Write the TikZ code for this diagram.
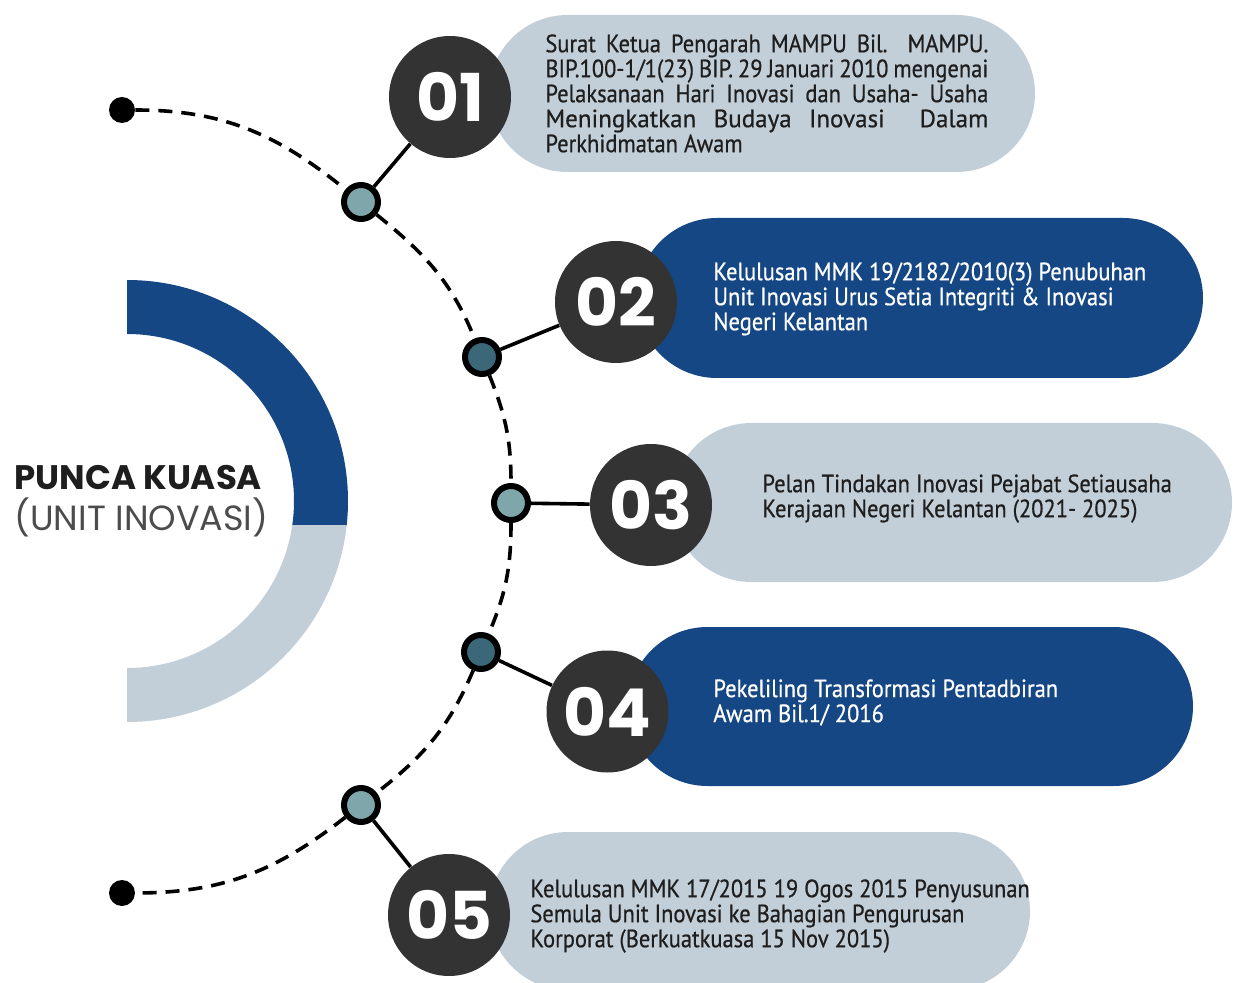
\documentclass[tikz,border=0pt]{standalone}
\usepackage{fontspec}
\usetikzlibrary{shapes.misc}
\setmainfont{PT Sans}
\newfontfamily\descfont[FakeStretch=0.9,FakeBold=0.6]{PT Sans}
\newfontfamily\widefont[FakeBold=0.6]{PT Sans}
\newfontfamily\numfont{Poppins}
\newfontfamily\titlefont{Poppins}
\definecolor{navy}{HTML}{164785}
\definecolor{pale}{HTML}{C3CFD8}
\definecolor{ink}{HTML}{333333}
\definecolor{tealL}{HTML}{7FA6AB}
\definecolor{tealD}{HTML}{3A6878}
\definecolor{txt}{HTML}{1E1E1E}
\newcommand{\jline}[1]{\makebox[221.5pt][s]{#1}}
\begin{document}
\begin{tikzpicture}[x=0.5pt,y=0.5pt,
  pill/.style={rounded rectangle, inner sep=0pt, draw=none},
  numc/.style={circle, fill=ink, minimum size=61pt, inner sep=0pt, text=white,
    font=\numfont\bfseries\fontsize{33}{33}\selectfont},
  desc/.style={anchor=north west, inner sep=0pt, align=left,
    font=\descfont\fontsize{12.5}{12.5}\selectfont},
  enddot/.style={circle, fill=black, minimum size=13pt, inner sep=0pt},
  joint/.style={circle, draw=black, line width=3pt, minimum size=17pt, inner sep=0pt},
  conn/.style={line width=1.8pt, black},
  dashline/.style={line width=1.8pt, black, dash pattern=on 7pt off 4.5pt}]
\useasboundingbox (0,0) rectangle (1233,982);
% half ring
\begin{scope}
  \clip (127,457) rectangle (420,800);
  \fill[navy,even odd rule] (127,481) circle[radius=110.5pt] (127,481) circle[radius=83.5pt];
\end{scope}
\begin{scope}
  \clip (127,150) rectangle (420,457);
  \fill[pale,even odd rule] (127,481) circle[radius=110.5pt] (127,481) circle[radius=83.5pt];
\end{scope}
\node[anchor=west, inner sep=0pt, font=\titlefont\bfseries\fontsize{17}{17}\selectfont, text=txt] (t1) at (14,504) {PUNCA KUASA};
\node[anchor=west, inner sep=0pt, font=\titlefont\fontsize{17.5}{17.5}\selectfont, text=black!70] (t2) at (14,465) {(UNIT INOVASI)};
% pills
\node[pill, fill=pale, minimum width=273pt, minimum height=78.5pt] (p1) at (762,888.5) {};
\node[pill, fill=navy, minimum width=283pt, minimum height=80pt] (p2) at (920,684) {};
\node[pill, fill=pale, minimum width=280pt, minimum height=79.5pt] (p3) at (952,479.5) {};
\node[pill, fill=navy, minimum width=282.5pt, minimum height=79.5pt] (p4) at (910.5,275.5) {};
\node[pill, fill=pale, minimum width=270.5pt, minimum height=79pt] (p5) at (759.5,71) {};
% number circles
\node[numc] (n1) at (450,885) {01};
\node[numc] (n2) at (616,680) {02};
\node[numc] (n3) at (651,477) {03};
\node[numc] (n4) at (607.5,270.5) {04};
\node[numc] (n5) at (449,67) {05};
% texts
\node[desc, text=txt] (x1) at (545,948) {\jline{Surat Ketua Pengarah MAMPU Bil. MAMPU.}\\\jline{BIP.100-1/1(23) BIP. 29 Januari 2010 mengenai}\\\jline{Pelaksanaan Hari Inovasi dan Usaha- Usaha}\\\jline{\widefont Meningkatkan Budaya Inovasi\ \ Dalam}\\Perkhidmatan Awam};
\node[desc, text=white] (x2) at (713,720) {Kelulusan MMK 19/2182/2010(3) Penubuhan\\Unit Inovasi Urus Setia Integriti \& Inovasi\\Negeri Kelantan};
\node[desc, text=txt] (x3) at (762,508) {Pelan Tindakan Inovasi Pejabat Setiausaha\\Kerajaan Negeri Kelantan (2021- 2025)};
\node[desc, text=white] (x4) at (713,303) {Pekeliling Transformasi Pentadbiran\\Awam Bil.1/ 2016};
\node[desc, text=txt] (x5) at (530,103) {Kelulusan MMK 17/2015 19 Ogos 2015 Penyusunan\\Semula Unit Inovasi ke Bahagian Pengurusan\\Korporat (Berkuatkuasa 15 Nov 2015)};
% dots and joints
\node[enddot] (d1) at (122,872) {};
\node[joint, fill=tealL] (c1) at (361,780) {};
\node[joint, fill=tealD] (c2) at (482,625) {};
\node[joint, fill=tealL] (c3) at (511,479) {};
\node[joint, fill=tealD] (c4) at (481,330) {};
\node[joint, fill=tealL] (c5) at (361,177) {};
\node[enddot] (d2) at (122,89) {};
% dashed arc
\draw[dashline] (d1) to[out=0,in=141] (c1) to[out=-39,in=112] (c2) to[out=-68,in=90] (c3)
  to[out=-90,in=67] (c4) to[out=-113,in=38] (c5) to[out=-142,in=0] (d2);
% connectors
\draw[conn] (c1) -- (n1);
\draw[conn] (c2) -- (n2);
\draw[conn] (c3) -- (n3);
\draw[conn] (c4) -- (n4);
\draw[conn] (c5) -- (n5);
\end{tikzpicture}
\end{document}
